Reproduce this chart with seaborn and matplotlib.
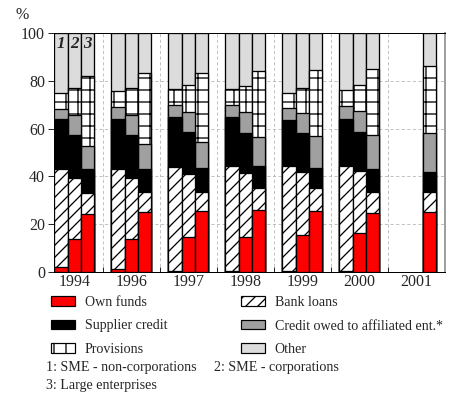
import numpy as np
import pandas as pd
import matplotlib
matplotlib.use("Agg")
import matplotlib.pyplot as plt
import seaborn as sns
from matplotlib.patches import Patch

# ---- data: financing structure, % of balance sheet total ----
years = ["1994", "1996", "1997", "1998", "1999", "2000", "2001"]
groups = ["1", "2", "3"]
nan = np.nan

# one row per enterprise group (1, 2, 3), one column per year
own_funds = [
    [2.2, 1.1, 0.5, 0.3, 0.3, 0.3, nan],
    [13.7, 13.7, 14.6, 14.6, 15.4, 16.2, nan],
    [24.4, 24.9, 25.5, 26.1, 25.5, 24.6, 24.9],
]
bank_loans = [
    [40.7, 42.0, 43.5, 44.2, 44.0, 44.0, nan],
    [25.5, 25.8, 26.3, 26.9, 26.3, 26.1, nan],
    [8.7, 8.7, 8.1, 8.9, 9.8, 9.0, 8.7],
]
supplier_credit = [
    [21.3, 21.1, 20.7, 20.5, 19.3, 19.9, nan],
    [18.2, 17.9, 17.6, 16.8, 16.6, 16.2, nan],
    [9.8, 9.5, 10.1, 9.3, 8.4, 9.3, 8.4],
]
affiliated_credit = [
    [4.1, 5.0, 5.0, 5.0, 5.0, 5.3, nan],
    [8.4, 8.1, 8.4, 8.6, 8.1, 9.0, nan],
    [9.8, 10.4, 10.9, 12.0, 13.4, 14.5, 16.3],
]
provisions = [
    [6.5, 6.4, 6.8, 6.5, 6.5, 6.7, nan],
    [11.2, 11.3, 11.5, 11.0, 10.6, 10.9, nan],
    [29.4, 29.7, 28.6, 28.0, 27.5, 27.5, 27.7],
]
other = [
    [25.2, 24.4, 23.5, 23.5, 24.9, 23.8, nan],
    [23.0, 23.2, 21.6, 22.1, 23.0, 21.6, nan],
    [17.9, 16.8, 16.8, 15.7, 15.4, 15.1, 14.0],
]

# label, values, face colour, hatch (bottom to top)
segments = [
    ("Own funds", own_funds, "#ff0000", None),
    ("Bank loans", bank_loans, "white", "//"),
    ("Supplier credit", supplier_credit, "black", None),
    ("Credit owed to affiliated ent.*", affiliated_credit, "#a0a0a0", None),
    ("Provisions", provisions, "white", "+"),
    ("Other", other, "#dcdcdc", None),
]

# long table with cumulative tops of each stacked segment
rows = []
for gi, g in enumerate(groups):
    for yi, yr in enumerate(years):
        cum = 0.0
        for name, vals, _, _ in segments:
            v = vals[gi][yi]
            if np.isnan(v):
                continue
            cum += v
            rows.append({"year": yr, "group": g, "segment": name, "top": cum})
df = pd.DataFrame(rows)

# ---- style ----
sns.set_style("white")
plt.rcParams["font.family"] = ["Liberation Serif", "DejaVu Serif"]
plt.rcParams["hatch.linewidth"] = 1.3
plt.rcParams["hatch.color"] = "black"

W, H, DPI = 456, 394, 72
fig = plt.figure(figsize=(W / DPI, H / DPI), dpi=DPI)
ax = fig.add_axes([54 / W, 1 - 272 / H, (445 - 54) / W, (272 - 33) / H])

# grid behind the bars
for yv in [20, 40, 60, 80]:
    ax.axhline(yv, color="#b4b4b4", lw=0.8, ls=(0, (4, 3)), zorder=0)
for xv in np.arange(0.5, 6.0, 1.0):
    ax.axvline(xv, color="#b4b4b4", lw=0.8, ls=(0, (4, 3)), zorder=0)

# stacked bars: draw cumulative heights from the top segment downwards
for name, _, color, hatch in reversed(segments):
    sub = df[df["segment"] == name]
    sns.barplot(
        data=sub, x="year", y="top", hue="group",
        order=years, hue_order=groups,
        palette=[color] * 3, saturation=1,
        width=0.7, gap=0, errorbar=None,
        edgecolor="black", linewidth=1.3, hatch=hatch,
        legend=False, ax=ax, zorder=2,
    )

ax.set_xlim(-0.355, 6.5)
ax.set_ylim(0, 100)
ax.set_xlabel("")
ax.set_ylabel("")
ax.set_yticks(range(0, 101, 20))
ax.tick_params(axis="y", labelsize=16, length=6, width=1, direction="out", pad=3, left=True)
ax.tick_params(axis="x", which="major", labelsize=16, length=0, pad=2)
ax.set_xticks(np.arange(0.5, 6.0, 1.0), minor=True)
ax.tick_params(axis="x", which="minor", direction="in", length=5, width=1, bottom=True)
for side in ["left", "top", "bottom"]:
    ax.spines[side].set_color("black")
    ax.spines[side].set_linewidth(1.0)
ax.spines["right"].set_color("#a0a0a0")
ax.spines["right"].set_linewidth(2)

# group numbers above the first year's bars
bw = 0.7 / 3
for i, g in enumerate(groups):
    ax.text((i - 1) * bw, 95.5, g, ha="center", va="center", fontsize=17,
            style="italic", fontweight="bold", zorder=5)

fig.text(22 / W, 1 - 15 / H, "%", ha="center", va="center", fontsize=16)

# legend in two columns
def handle(name):
    for n, _, c, h in segments:
        if n == name:
            return Patch(facecolor=c, edgecolor="black", hatch=h, lw=1.2, label=n)

col1 = [handle("Own funds"), handle("Supplier credit"), handle("Provisions")]
col2 = [handle("Bank loans"), handle("Credit owed to affiliated ent.*"), handle("Other")]
common = dict(loc="upper left", frameon=False, fontsize=14, borderpad=0,
              borderaxespad=0, handlelength=1.7, handleheight=0.65,
              handletextpad=0.7, labelspacing=0.75)
fig.legend(handles=col1, bbox_to_anchor=(51 / W, 1 - 296 / H), **common)
fig.legend(handles=col2, bbox_to_anchor=(241 / W, 1 - 296 / H), **common)

fig.text(46 / W, 1 - 368 / H, "1: SME - non-corporations", ha="left", va="center", fontsize=14)
fig.text(214 / W, 1 - 368 / H, "2: SME - corporations", ha="left", va="center", fontsize=14)
fig.text(46 / W, 1 - 385 / H, "3: Large enterprises", ha="left", va="center", fontsize=14)

fig.savefig("out.png", dpi=DPI)
